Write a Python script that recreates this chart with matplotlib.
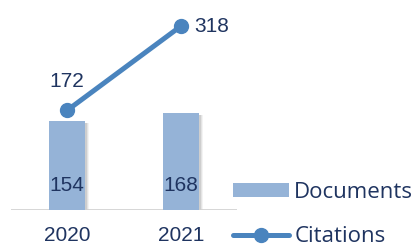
import matplotlib.pyplot as plt
from matplotlib.patches import Rectangle
from matplotlib.lines import Line2D
from matplotlib.patches import Patch

years = ["2020", "2021"]
documents = [154, 168]
citations = [172, 318]

bar_color = "#95B3D7"
line_color = "#4A84BE"
text_color = "#1F3460"
num_font = ["Liberation Sans", "DejaVu Sans"]

fig = plt.figure(figsize=(4.17, 2.46), dpi=100)
ax = fig.add_axes([11 / 417, 36 / 246, 226 / 417, 210 / 246])
ax.set_xlim(-0.491, 1.491)
ax.set_ylim(0, 363)
ax.axis("off")

x = range(len(years))
width = 0.316

# soft shadow to the right of the bars
for i, v in zip(x, documents):
    for k, a in enumerate([0.08, 0.12, 0.18]):
        off = 0.035 - k * 0.01
        ax.add_patch(Rectangle((i - width / 2 + off, 0), width, v - 3,
                               color="#707070", alpha=a, lw=0, zorder=1))

ax.bar(x, documents, width=width, color=bar_color, zorder=2)
ax.plot(x, citations, color=line_color, lw=3.6, marker="o",
        markersize=10, zorder=3, solid_capstyle="round")
ax.axhline(0, xmin=0, xmax=1, color="#d0d0d0", lw=1.2, zorder=1)

for i, v in zip(x, documents):
    ax.text(i, 43, str(v), ha="center", va="center", fontsize=15,
            color=text_color, family=num_font, zorder=4)
    ax.text(i, -44, years[i], ha="center", va="center", fontsize=15,
            color=text_color, family=num_font, clip_on=False)

ax.text(0, citations[0] + 50, str(citations[0]), ha="center", va="center",
        fontsize=15, color=text_color, family=num_font)
ax.text(1 + 0.12, citations[1], str(citations[1]), ha="left", va="center",
        fontsize=15, color=text_color, family=num_font)

handles = [Patch(facecolor=bar_color, edgecolor="none"),
           Line2D([], [], color=line_color, lw=3.6, marker="o", markersize=10,
                  solid_capstyle="round")]
fig.legend(handles, ["Documents", "Citations"],
           loc="upper left", bbox_to_anchor=(222 / 417, 1 - 171 / 246),
           frameon=False, handlelength=2.5, handletextpad=0.25, handleheight=0.6,
           labelspacing=1.05, borderpad=0, labelcolor=text_color,
           prop={"family": ["Open Sans", "DejaVu Sans"], "size": 16})

fig.savefig("out.png", dpi=100)
